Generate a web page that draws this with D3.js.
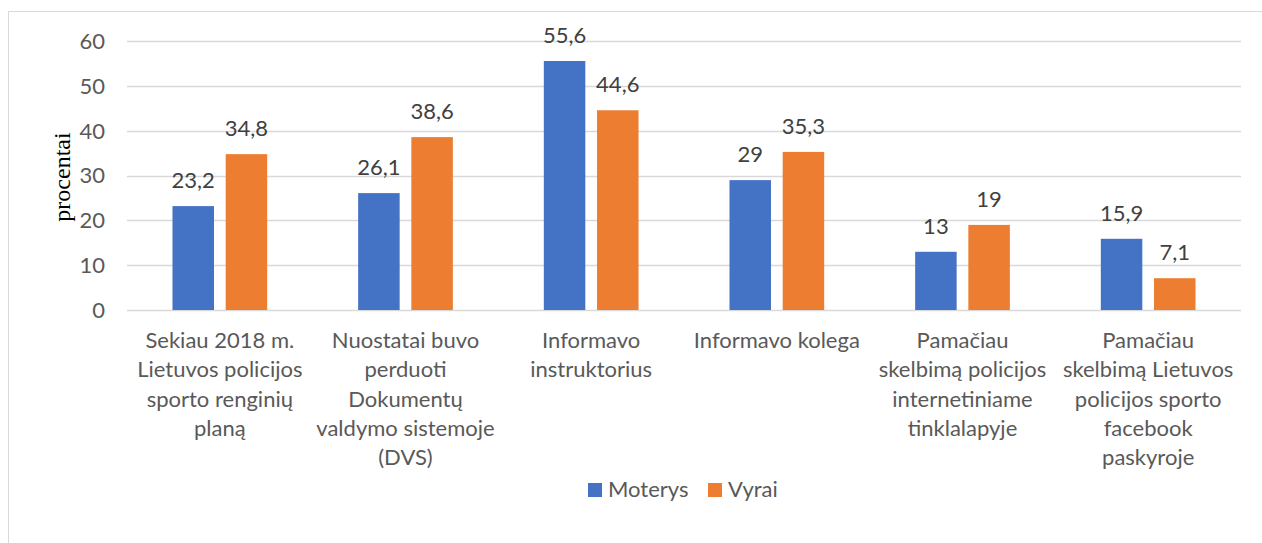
<!DOCTYPE html>
<html>
<head>
<meta charset="utf-8">
<script src="https://cdn.jsdelivr.net/npm/d3@7"></script>
<style>
  html, body { margin: 0; padding: 0; background: #fff; }
  svg { display: block; }
</style>
</head>
<body>
<svg id="chart" width="1262" height="543"></svg>
<script>
const categories = [
  ["Sekiau 2018 m.", "Lietuvos policijos", "sporto renginių", "planą"],
  ["Nuostatai buvo", "perduoti", "Dokumentų", "valdymo sistemoje", "(DVS)"],
  ["Informavo", "instruktorius"],
  ["Informavo kolega"],
  ["Pamačiau", "skelbimą policijos", "internetiniame", "tinklalapyje"],
  ["Pamačiau", "skelbimą Lietuvos", "policijos sporto", "facebook", "paskyroje"]
];
const seriesNames = ["Moterys", "Vyrai"];
const moterys = [23.2, 26.1, 55.6, 29, 13, 15.9];
const vyrai = [34.8, 38.6, 44.6, 35.3, 19, 7.1];
const yTicks = [0, 10, 20, 30, 40, 50, 60];
const yTitle = "procentai";

const colors = ["#4472C4", "#ED7D31"];
const fontSans = "Lato, 'Open Sans', sans-serif";
const textColor = "#595959";
const fs = 22;

const svg = d3.select("#chart");

// outer border
svg.append("rect")
  .attr("x", 8.5).attr("y", 11.5)
  .attr("width", 1262).attr("height", 540)
  .attr("fill", "none").attr("stroke", "#D9D9D9").attr("stroke-width", 1);

const plot = { left: 127, right: 1241, top: 41.3, bottom: 310 };

const x0 = d3.scaleBand()
  .domain(d3.range(categories.length))
  .range([plot.left, plot.right])
  .paddingInner(0).paddingOuter(0);

const groupWidth = 94.7;
const x1 = d3.scaleBand()
  .domain(seriesNames)
  .range([0, groupWidth])
  .paddingInner(0.22);

const y = d3.scaleLinear().domain([0, 60]).range([plot.bottom, plot.top]);

// gridlines
svg.append("g").selectAll("line").data(yTicks).join("line")
  .attr("x1", plot.left).attr("x2", plot.right)
  .attr("y1", d => Math.round(y(d)) + 0.5).attr("y2", d => Math.round(y(d)) + 0.5)
  .attr("stroke", "#D9D9D9").attr("stroke-width", 1.3);

// y tick labels
svg.append("g").selectAll("text").data(yTicks).join("text")
  .attr("x", 105).attr("y", d => y(d))
  .attr("dy", "0.35em")
  .attr("text-anchor", "end")
  .attr("font-family", fontSans).attr("font-size", fs)
  .attr("fill", textColor)
  .text(d => d);

// y title
svg.append("text")
  .attr("transform", `translate(70, 177) rotate(-90)`)
  .attr("text-anchor", "middle")
  .attr("font-family", "'Liberation Serif', 'Times New Roman', serif")
  .attr("font-size", 24)
  .attr("fill", "#000")
  .text(yTitle);

const data = categories.map((c, i) => ({ i, values: [moterys[i], vyrai[i]] }));

const groups = svg.append("g").selectAll("g").data(data).join("g")
  .attr("transform", d => `translate(${x0(d.i) + (x0.bandwidth() - groupWidth) / 2},0)`);

groups.selectAll("rect").data(d => d.values.map((v, k) => ({ v, k }))).join("rect")
  .attr("x", d => x1(seriesNames[d.k]))
  .attr("y", d => y(d.v))
  .attr("width", x1.bandwidth())
  .attr("height", d => y(0) - y(d.v))
  .attr("fill", d => colors[d.k]);

groups.selectAll("text.lbl").data(d => d.values.map((v, k) => ({ v, k }))).join("text")
  .attr("class", "lbl")
  .attr("x", d => x1(seriesNames[d.k]) + x1.bandwidth() / 2)
  .attr("y", d => y(d.v) - 18)
  .attr("text-anchor", "middle")
  .attr("font-family", fontSans).attr("font-size", fs)
  .attr("fill", "#404040")
  .text(d => String(d.v).replace(".", ","));

// category labels
const catG = svg.append("g").selectAll("text").data(categories).join("text")
  .attr("x", (d, i) => x0(i) + x0.bandwidth() / 2)
  .attr("y", 348)
  .attr("text-anchor", "middle")
  .attr("font-family", fontSans).attr("font-size", fs)
  .attr("fill", textColor);
catG.selectAll("tspan").data(d => d).join("tspan")
  .attr("x", function() { return d3.select(this.parentNode).attr("x"); })
  .attr("dy", (d, j) => j === 0 ? 0 : 29.3)
  .text(d => d);

// legend
const legend = svg.append("g");
const legendX = [588, 708];
seriesNames.forEach((name, k) => {
  legend.append("rect")
    .attr("x", legendX[k]).attr("y", 483)
    .attr("width", 14).attr("height", 14)
    .attr("fill", colors[k]);
  legend.append("text")
    .attr("x", legendX[k] + 20).attr("y", 497)
    .attr("font-family", fontSans).attr("font-size", fs)
    .attr("fill", textColor)
    .text(name);
});
</script>
</body>
</html>
